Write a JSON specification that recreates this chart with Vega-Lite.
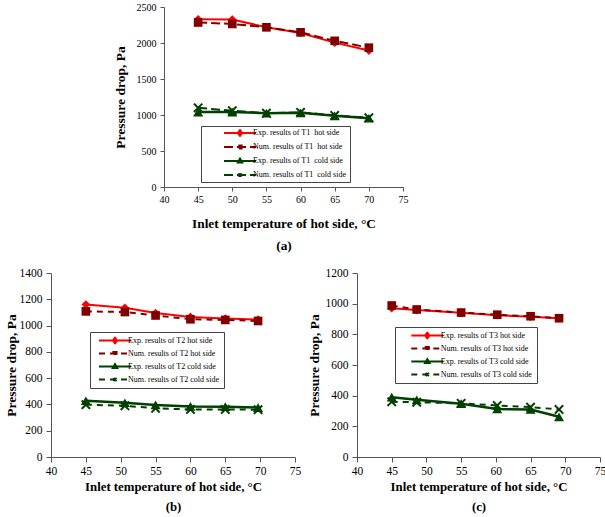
{
  "$schema": "https://vega.github.io/schema/vega-lite/v6.json",
  "padding": {"left": 4, "top": 2, "right": 0, "bottom": 0},
  "config": {
    "view": {"stroke": null},
    "font": "Liberation Serif",
    "axis": {"grid": false, "domainColor": "#555", "tickColor": "#555", "labelColor": "#000", "titleColor": "#000", "labelFont": "Liberation Serif", "titleFont": "Liberation Serif", "titleFontWeight": "bold", "domainWidth": 1, "tickWidth": 1, "format": "d"},
    "axisX": {"labelAngle": 0, "labelFlush": false},
    "legend": {"title": null, "orient": "none", "fillColor": "white", "strokeColor": "#444", "symbolSize": 1024, "symbolStrokeWidth": 2, "clipHeight": 8, "labelFontSize": 8, "labelFont": "Liberation Serif", "labelColor": "#000", "labelLimit": 400, "columnPadding": 0}
  },
  "datasets": {
    "pd": [
      {"p": "a", "s": "Exp. results of T1\u00a0 hot side", "x": 45, "y": 2330},
      {"p": "a", "s": "Exp. results of T1\u00a0 hot side", "x": 50, "y": 2325},
      {"p": "a", "s": "Exp. results of T1\u00a0 hot side", "x": 55, "y": 2220},
      {"p": "a", "s": "Exp. results of T1\u00a0 hot side", "x": 60, "y": 2140},
      {"p": "a", "s": "Exp. results of T1\u00a0 hot side", "x": 65, "y": 2005},
      {"p": "a", "s": "Exp. results of T1\u00a0 hot side", "x": 70, "y": 1895},
      {"p": "a", "s": "Num. results of T1\u00a0 hot side", "x": 45, "y": 2285},
      {"p": "a", "s": "Num. results of T1\u00a0 hot side", "x": 50, "y": 2265},
      {"p": "a", "s": "Num. results of T1\u00a0 hot side", "x": 55, "y": 2218},
      {"p": "a", "s": "Num. results of T1\u00a0 hot side", "x": 60, "y": 2148},
      {"p": "a", "s": "Num. results of T1\u00a0 hot side", "x": 65, "y": 2030},
      {"p": "a", "s": "Num. results of T1\u00a0 hot side", "x": 70, "y": 1935},
      {"p": "a", "s": "Exp. results of T1\u00a0 cold side", "x": 45, "y": 1040},
      {"p": "a", "s": "Exp. results of T1\u00a0 cold side", "x": 50, "y": 1040},
      {"p": "a", "s": "Exp. results of T1\u00a0 cold side", "x": 55, "y": 1025},
      {"p": "a", "s": "Exp. results of T1\u00a0 cold side", "x": 60, "y": 1030},
      {"p": "a", "s": "Exp. results of T1\u00a0 cold side", "x": 65, "y": 988},
      {"p": "a", "s": "Exp. results of T1\u00a0 cold side", "x": 70, "y": 955},
      {"p": "a", "s": "Num. results of T1\u00a0 cold side", "x": 45, "y": 1100},
      {"p": "a", "s": "Num. results of T1\u00a0 cold side", "x": 50, "y": 1060},
      {"p": "a", "s": "Num. results of T1\u00a0 cold side", "x": 55, "y": 1025},
      {"p": "a", "s": "Num. results of T1\u00a0 cold side", "x": 60, "y": 1037},
      {"p": "a", "s": "Num. results of T1\u00a0 cold side", "x": 65, "y": 995},
      {"p": "a", "s": "Num. results of T1\u00a0 cold side", "x": 70, "y": 962},
      {"p": "b", "s": "Exp. results of T2 hot side", "x": 45, "y": 1160},
      {"p": "b", "s": "Exp. results of T2 hot side", "x": 50.6, "y": 1135},
      {"p": "b", "s": "Exp. results of T2 hot side", "x": 55, "y": 1095},
      {"p": "b", "s": "Exp. results of T2 hot side", "x": 60, "y": 1066},
      {"p": "b", "s": "Exp. results of T2 hot side", "x": 65, "y": 1053},
      {"p": "b", "s": "Exp. results of T2 hot side", "x": 69.7, "y": 1045},
      {"p": "b", "s": "Num. results of T2 hot side", "x": 45, "y": 1108},
      {"p": "b", "s": "Num. results of T2 hot side", "x": 50.6, "y": 1103},
      {"p": "b", "s": "Num. results of T2 hot side", "x": 55, "y": 1077},
      {"p": "b", "s": "Num. results of T2 hot side", "x": 60, "y": 1048},
      {"p": "b", "s": "Num. results of T2 hot side", "x": 65, "y": 1043},
      {"p": "b", "s": "Num. results of T2 hot side", "x": 69.7, "y": 1035},
      {"p": "b", "s": "Exp. results of T2 cold side", "x": 45, "y": 428},
      {"p": "b", "s": "Exp. results of T2 cold side", "x": 50.6, "y": 413},
      {"p": "b", "s": "Exp. results of T2 cold side", "x": 55, "y": 396},
      {"p": "b", "s": "Exp. results of T2 cold side", "x": 60, "y": 385},
      {"p": "b", "s": "Exp. results of T2 cold side", "x": 65, "y": 383},
      {"p": "b", "s": "Exp. results of T2 cold side", "x": 69.7, "y": 376},
      {"p": "b", "s": "Num. results of T2 cold side", "x": 45, "y": 398},
      {"p": "b", "s": "Num. results of T2 cold side", "x": 50.6, "y": 390},
      {"p": "b", "s": "Num. results of T2 cold side", "x": 55, "y": 370},
      {"p": "b", "s": "Num. results of T2 cold side", "x": 60, "y": 362},
      {"p": "b", "s": "Num. results of T2 cold side", "x": 65, "y": 362},
      {"p": "b", "s": "Num. results of T2 cold side", "x": 69.7, "y": 360},
      {"p": "c", "s": "Exp. results of T3 hot side", "x": 45, "y": 970},
      {"p": "c", "s": "Exp. results of T3 hot side", "x": 48.6, "y": 958},
      {"p": "c", "s": "Exp. results of T3 hot side", "x": 55, "y": 940},
      {"p": "c", "s": "Exp. results of T3 hot side", "x": 60.2, "y": 925},
      {"p": "c", "s": "Exp. results of T3 hot side", "x": 65, "y": 915},
      {"p": "c", "s": "Exp. results of T3 hot side", "x": 69.1, "y": 905},
      {"p": "c", "s": "Num. results of T3 hot side", "x": 45, "y": 988},
      {"p": "c", "s": "Num. results of T3 hot side", "x": 48.6, "y": 962},
      {"p": "c", "s": "Num. results of T3 hot side", "x": 55, "y": 942},
      {"p": "c", "s": "Num. results of T3 hot side", "x": 60.2, "y": 928},
      {"p": "c", "s": "Num. results of T3 hot side", "x": 65, "y": 918},
      {"p": "c", "s": "Num. results of T3 hot side", "x": 69.1, "y": 905},
      {"p": "c", "s": "Exp. results of T3 cold side", "x": 45, "y": 390},
      {"p": "c", "s": "Exp. results of T3 cold side", "x": 48.6, "y": 373},
      {"p": "c", "s": "Exp. results of T3 cold side", "x": 55, "y": 348},
      {"p": "c", "s": "Exp. results of T3 cold side", "x": 60.2, "y": 313},
      {"p": "c", "s": "Exp. results of T3 cold side", "x": 65, "y": 310},
      {"p": "c", "s": "Exp. results of T3 cold side", "x": 69.1, "y": 262},
      {"p": "c", "s": "Num. results of T3 cold side", "x": 45, "y": 360},
      {"p": "c", "s": "Num. results of T3 cold side", "x": 48.6, "y": 357},
      {"p": "c", "s": "Num. results of T3 cold side", "x": 55, "y": 350},
      {"p": "c", "s": "Num. results of T3 cold side", "x": 60.2, "y": 336},
      {"p": "c", "s": "Num. results of T3 cold side", "x": 65, "y": 325},
      {"p": "c", "s": "Num. results of T3 cold side", "x": 69.1, "y": 310}
    ]
  },
  "bounds": "flush",
  "spacing": 266,
  "resolve": {"scale": {"fill": "independent", "stroke": "independent", "shape": "independent", "strokeDash": "independent"}, "legend": {"fill": "independent", "stroke": "independent", "shape": "independent", "strokeDash": "independent"}},
  "vconcat": [
    {
      "bounds": "flush",
      "spacing": 0,
      "resolve": {"scale": {"fill": "independent", "stroke": "independent", "shape": "independent", "strokeDash": "independent"}, "legend": {"fill": "independent", "stroke": "independent", "shape": "independent", "strokeDash": "independent"}},
      "hconcat": [
        {"width": 113, "height": 180, "data": {"values": []}, "mark": "point"},
        {
          "width": 239, "height": 180,
          "data": {"name": "pd"},
          "transform": [{"filter": {"field": "p", "equal": "a"}}],
          "encoding": {
            "x": {"field": "x", "type": "quantitative", "scale": {"domain": [40, 75], "nice": false, "zero": false},
                  "axis": {"values": [40, 45, 50, 55, 60, 65, 70, 75], "title": ["Inlet temperature of hot side, °C", "(a)"], "titleFontSize": 13.3, "titleLineHeight": 22, "labelFontSize": 10, "tickSize": 4, "labelPadding": 3, "titlePadding": 12}},
            "y": {"field": "y", "type": "quantitative", "scale": {"domain": [0, 2500], "nice": false},
                  "axis": {"values": [0, 500, 1000, 1500, 2000, 2500], "title": "Pressure drop, Pa", "titleFontSize": 13.5, "labelFontSize": 10, "tickSize": 4, "labelPadding": 4, "titlePadding": 9}}
          },
          "layer": [
            {"transform": [{"filter": {"field": "s", "equal": "Exp. results of T1\u00a0 hot side"}}],
             "mark": {"type": "line", "color": "#ff0000", "strokeWidth": 2, "point": {"shape": "diamond", "filled": true, "color": "#ff0000", "size": 75, "opacity": 1}}},
            {"transform": [{"filter": {"field": "s", "equal": "Num. results of T1\u00a0 hot side"}}],
             "mark": {"type": "line", "color": "#800000", "strokeWidth": 2, "strokeDash": [9, 4], "point": {"shape": "square", "filled": true, "color": "#800000", "size": 75, "opacity": 1}}},
            {"transform": [{"filter": {"field": "s", "equal": "Exp. results of T1\u00a0 cold side"}}],
             "mark": {"type": "line", "color": "#004000", "strokeWidth": 2.5, "point": {"shape": "triangle-up", "filled": true, "color": "#004000", "size": 100, "opacity": 1}}},
            {"transform": [{"filter": {"field": "s", "equal": "Num. results of T1\u00a0 cold side"}}],
             "mark": {"type": "line", "color": "#004000", "strokeWidth": 2, "strokeDash": [9, 4], "point": {"shape": "M-1,-1L1,1M-1,1L1,-1", "filled": false, "color": "#004000", "strokeWidth": 2, "strokeDash": [1, 0], "size": 70, "opacity": 1}}},
            {"transform": [{"filter": {"field": "p", "equal": "none"}}],
             "mark": {"type": "point", "filled": true, "opacity": 1, "strokeWidth": 2},
             "encoding": {
               "fill": {"field": "s", "type": "nominal", "scale": {"domain": ["Exp. results of T1\u00a0 hot side", "Num. results of T1\u00a0 hot side", "Exp. results of T1\u00a0 cold side", "Num. results of T1\u00a0 cold side"], "range": ["#ff0000", "#800000", "#004000", "#004000"]},
                        "legend": {"legendX": 37, "legendY": 119, "padding": 3, "symbolOffset": 19, "labelOffset": -4, "rowPadding": 6, "labelExpr": "datum.label + '\u00a0\u00a0\u00a0\u00a0\u00a0\u00a0\u00a0\u00a0\u00a0\u00a0\u00a0\u00a0'"}},
               "stroke": {"field": "s", "type": "nominal", "scale": {"domain": ["Exp. results of T1\u00a0 hot side", "Num. results of T1\u00a0 hot side", "Exp. results of T1\u00a0 cold side", "Num. results of T1\u00a0 cold side"], "range": ["#ff0000", "#800000", "#004000", "#004000"]}},
               "shape": {"field": "s", "type": "nominal", "scale": {"domain": ["Exp. results of T1\u00a0 hot side", "Num. results of T1\u00a0 hot side", "Exp. results of T1\u00a0 cold side", "Num. results of T1\u00a0 cold side"], "range": ["M-1,0H1M0,-0.18L0.13,0L0,0.18L-0.13,0Z", "M-1,0H1M-0.1,-0.1H0.1V0.1H-0.1Z", "M-1,0H1M0,-0.15L0.14,0.1H-0.14Z", "M-1,0H1M-0.1,-0.1L0.1,0.1M-0.1,0.1L0.1,-0.1"]}},
               "strokeDash": {"field": "s", "type": "nominal", "scale": {"domain": ["Exp. results of T1\u00a0 hot side", "Num. results of T1\u00a0 hot side", "Exp. results of T1\u00a0 cold side", "Num. results of T1\u00a0 cold side"], "range": [[1, 0], [9, 4], [1, 0], [9, 4]]}}
             }}
          ]
        }
      ]
    },
    {
      "bounds": "flush",
      "spacing": 62,
      "resolve": {"scale": {"fill": "independent", "stroke": "independent", "shape": "independent", "strokeDash": "independent"}, "legend": {"fill": "independent", "stroke": "independent", "shape": "independent", "strokeDash": "independent"}},
      "hconcat": [
        {
          "width": 244, "height": 184,
          "data": {"name": "pd"},
          "transform": [{"filter": {"field": "p", "equal": "b"}}],
          "encoding": {
            "x": {"field": "x", "type": "quantitative", "scale": {"domain": [40, 75], "nice": false, "zero": false},
                  "axis": {"values": [40, 45, 50, 55, 60, 65, 70, 75], "title": ["Inlet temperature of hot side, °C", "(b)"], "titleFontSize": 12.8, "titleLineHeight": 20, "labelFontSize": 11.5, "tickSize": 5, "labelPadding": 3, "titlePadding": 4}},
            "y": {"field": "y", "type": "quantitative", "scale": {"domain": [0, 1400], "nice": false},
                  "axis": {"values": [0, 200, 400, 600, 800, 1000, 1200, 1400], "title": "Pressure drop, Pa", "titleFontSize": 13.5, "labelFontSize": 11.5, "tickSize": 5, "labelPadding": 4, "titlePadding": 1}}
          },
          "layer": [
            {"transform": [{"filter": {"field": "s", "equal": "Exp. results of T2 hot side"}}],
             "mark": {"type": "line", "color": "#ff0000", "strokeWidth": 2, "point": {"shape": "diamond", "filled": true, "color": "#ff0000", "size": 75, "opacity": 1}}},
            {"transform": [{"filter": {"field": "s", "equal": "Num. results of T2 hot side"}}],
             "mark": {"type": "line", "color": "#800000", "strokeWidth": 2, "strokeDash": [6, 5], "point": {"shape": "square", "filled": true, "color": "#800000", "size": 75, "opacity": 1}}},
            {"transform": [{"filter": {"field": "s", "equal": "Exp. results of T2 cold side"}}],
             "mark": {"type": "line", "color": "#004000", "strokeWidth": 2.5, "point": {"shape": "triangle-up", "filled": true, "color": "#004000", "size": 100, "opacity": 1}}},
            {"transform": [{"filter": {"field": "s", "equal": "Num. results of T2 cold side"}}],
             "mark": {"type": "line", "color": "#004000", "strokeWidth": 2, "strokeDash": [6, 5], "point": {"shape": "M-1,-1L1,1M-1,1L1,-1", "filled": false, "color": "#004000", "strokeWidth": 2, "strokeDash": [1, 0], "size": 70, "opacity": 1}}},
            {"transform": [{"filter": {"field": "p", "equal": "none"}}],
             "mark": {"type": "point", "filled": true, "opacity": 1, "strokeWidth": 2},
             "encoding": {
               "fill": {"field": "s", "type": "nominal", "scale": {"domain": ["Exp. results of T2 hot side", "Num. results of T2 hot side", "Exp. results of T2 cold side", "Num. results of T2 cold side"], "range": ["#ff0000", "#800000", "#004000", "#004000"]},
                        "legend": {"legendX": 39, "legendY": 59, "padding": 4.5, "symbolOffset": 3.5, "labelOffset": -4, "rowPadding": 5}},
               "stroke": {"field": "s", "type": "nominal", "scale": {"domain": ["Exp. results of T2 hot side", "Num. results of T2 hot side", "Exp. results of T2 cold side", "Num. results of T2 cold side"], "range": ["#ff0000", "#800000", "#004000", "#004000"]}},
               "shape": {"field": "s", "type": "nominal", "scale": {"domain": ["Exp. results of T2 hot side", "Num. results of T2 hot side", "Exp. results of T2 cold side", "Num. results of T2 cold side"], "range": ["M-1,0H1M0,-0.18L0.13,0L0,0.18L-0.13,0Z", "M-1,0H1M-0.1,-0.1H0.1V0.1H-0.1Z", "M-1,0H1M0,-0.15L0.14,0.1H-0.14Z", "M-1,0H1M-0.1,-0.1L0.1,0.1M-0.1,0.1L0.1,-0.1"]}},
               "strokeDash": {"field": "s", "type": "nominal", "scale": {"domain": ["Exp. results of T2 hot side", "Num. results of T2 hot side", "Exp. results of T2 cold side", "Num. results of T2 cold side"], "range": [[1, 0], [6, 5], [1, 0], [6, 5]]}}
             }}
          ]
        },
        {
          "width": 243, "height": 184,
          "data": {"name": "pd"},
          "transform": [{"filter": {"field": "p", "equal": "c"}}],
          "encoding": {
            "x": {"field": "x", "type": "quantitative", "scale": {"domain": [40, 75], "nice": false, "zero": false},
                  "axis": {"values": [40, 45, 50, 55, 60, 65, 70, 75], "title": ["Inlet temperature of hot side, °C", "(c)"], "titleFontSize": 12.8, "titleLineHeight": 20, "labelFontSize": 11.5, "tickSize": 5, "labelPadding": 3, "titlePadding": 4}},
            "y": {"field": "y", "type": "quantitative", "scale": {"domain": [0, 1200], "nice": false},
                  "axis": {"values": [0, 200, 400, 600, 800, 1000, 1200], "title": "Pressure drop, Pa", "titleFontSize": 13.5, "labelFontSize": 11.5, "tickSize": 5, "labelPadding": 4, "titlePadding": 4}}
          },
          "layer": [
            {"transform": [{"filter": {"field": "s", "equal": "Exp. results of T3 hot side"}}],
             "mark": {"type": "line", "color": "#ff0000", "strokeWidth": 2, "point": {"shape": "diamond", "filled": true, "color": "#ff0000", "size": 75, "opacity": 1}}},
            {"transform": [{"filter": {"field": "s", "equal": "Num. results of T3 hot side"}}],
             "mark": {"type": "line", "color": "#800000", "strokeWidth": 2, "strokeDash": [6, 5], "point": {"shape": "square", "filled": true, "color": "#800000", "size": 75, "opacity": 1}}},
            {"transform": [{"filter": {"field": "s", "equal": "Exp. results of T3 cold side"}}],
             "mark": {"type": "line", "color": "#004000", "strokeWidth": 2.5, "point": {"shape": "triangle-up", "filled": true, "color": "#004000", "size": 100, "opacity": 1}}},
            {"transform": [{"filter": {"field": "s", "equal": "Num. results of T3 cold side"}}],
             "mark": {"type": "line", "color": "#004000", "strokeWidth": 2, "strokeDash": [6, 5], "point": {"shape": "M-1,-1L1,1M-1,1L1,-1", "filled": false, "color": "#004000", "strokeWidth": 2, "strokeDash": [1, 0], "size": 70, "opacity": 1}}},
            {"transform": [{"filter": {"field": "p", "equal": "none"}}],
             "mark": {"type": "point", "filled": true, "opacity": 1, "strokeWidth": 2},
             "encoding": {
               "fill": {"field": "s", "type": "nominal", "scale": {"domain": ["Exp. results of T3 hot side", "Num. results of T3 hot side", "Exp. results of T3 cold side", "Num. results of T3 cold side"], "range": ["#ff0000", "#800000", "#004000", "#004000"]},
                        "legend": {"legendX": 38, "legendY": 54, "padding": 4.5, "symbolOffset": 10.8, "labelOffset": -3.5, "rowPadding": 5}},
               "stroke": {"field": "s", "type": "nominal", "scale": {"domain": ["Exp. results of T3 hot side", "Num. results of T3 hot side", "Exp. results of T3 cold side", "Num. results of T3 cold side"], "range": ["#ff0000", "#800000", "#004000", "#004000"]}},
               "shape": {"field": "s", "type": "nominal", "scale": {"domain": ["Exp. results of T3 hot side", "Num. results of T3 hot side", "Exp. results of T3 cold side", "Num. results of T3 cold side"], "range": ["M-1,0H1M0,-0.18L0.13,0L0,0.18L-0.13,0Z", "M-1,0H1M-0.1,-0.1H0.1V0.1H-0.1Z", "M-1,0H1M0,-0.15L0.14,0.1H-0.14Z", "M-1,0H1M-0.1,-0.1L0.1,0.1M-0.1,0.1L0.1,-0.1"]}},
               "strokeDash": {"field": "s", "type": "nominal", "scale": {"domain": ["Exp. results of T3 hot side", "Num. results of T3 hot side", "Exp. results of T3 cold side", "Num. results of T3 cold side"], "range": [[1, 0], [6, 5], [1, 0], [6, 5]]}}
             }}
          ]
        }
      ]
    }
  ]
}
